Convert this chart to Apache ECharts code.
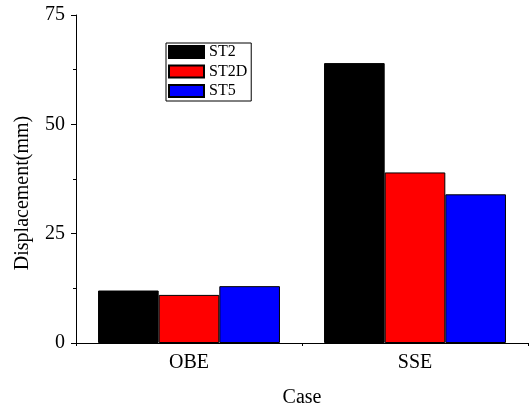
<!DOCTYPE html>
<html>
<head>
<meta charset="utf-8">
<script src="https://cdn.jsdelivr.net/npm/echarts@6/dist/echarts.min.js"></script>
<style>html,body{margin:0;padding:0;background:#fff}#c{width:531px;height:407px}</style>
</head>
<body>
<div id="c"></div>
<script>
const categories = ['OBE', 'SSE'];
const seriesNames = ['ST2', 'ST2D', 'ST5'];
const st2 = [12, 64];
const st2d = [11, 39];
const st5 = [13, 34];
const colors = ['#000000', '#ff0000', '#0000ff'];

const font = 'Liberation Serif, Times New Roman, serif';
const chart = echarts.init(document.getElementById('c'), null, {renderer: 'canvas'});
const values = [st2, st2d, st5];
chart.setOption({
  animation: false,
  textStyle: {fontFamily: font, color: '#000'},
  grid: {left: 76, top: 15, right: 3, bottom: 64, containLabel: false, outerBoundsMode: 'none'},
  legend: {
    orient: 'vertical', left: 166, top: 43,
    data: seriesNames,
    icon: 'rect', itemWidth: 35, itemHeight: 12, itemGap: 3.5,
    padding: [1, 4, 2, 2],
    borderColor: '#000', borderWidth: 1,
    textStyle: {fontFamily: font, fontSize: 16, color: '#000'}
  },
  xAxis: [{
    type: 'category', data: categories,
    name: 'Case', nameLocation: 'middle', nameGap: 45,
    nameTextStyle: {fontFamily: font, fontSize: 20, color: '#000'},
    axisLine: {lineStyle: {color: '#000', width: 1}},
    axisTick: {alignWithLabel: true, length: 5, lineStyle: {color: '#000'}},
    axisLabel: {fontFamily: font, fontSize: 20, color: '#000', margin: 10},
    splitLine: {show: false}
  }, {
    type: 'category', data: categories, position: 'bottom',
    axisLine: {show: false},
    axisTick: {show: true, length: 3, lineStyle: {color: '#000'}},
    axisLabel: {show: false}, splitLine: {show: false}
  }],
  yAxis: {
    type: 'value', min: 0, max: 75, interval: 25,
    name: 'Displacement(mm)', nameLocation: 'middle', nameGap: 43,
    nameTextStyle: {fontFamily: font, fontSize: 20, color: '#000', padding: [0, 28, 0, 0]},
    axisLine: {show: true, lineStyle: {color: '#000', width: 1}},
    axisTick: {show: true, length: 5, lineStyle: {color: '#000'}},
    minorTick: {show: true, splitNumber: 2, length: 3, lineStyle: {color: '#000'}},
    axisLabel: {fontFamily: font, fontSize: 20, color: '#000', margin: 11},
    splitLine: {show: false}
  },
  series: seriesNames.map((n, i) => ({
    name: n, type: 'bar', data: values[i],
    barGap: '0%', barCategoryGap: '19.5%',
    itemStyle: {color: colors[i], borderColor: '#000', borderWidth: 1}
  }))
});
</script>
</body>
</html>
